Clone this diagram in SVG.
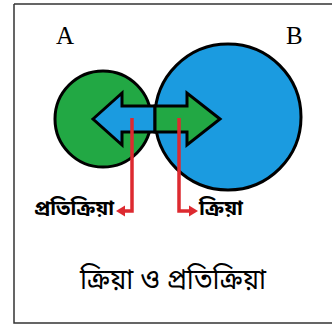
<svg xmlns="http://www.w3.org/2000/svg" width="332" height="324" viewBox="0 0 332 324">
<style>
.lbl{font-family:"Liberation Serif","Times New Roman",serif;font-size:25px;fill:#000}
.bn{font-family:"Noto Sans Bengali","Noto Serif Bengali","Lohit Bengali","Noto Sans",sans-serif;fill:#000}
.circ{stroke:#000;stroke-width:3}
.arr{stroke:#000;stroke-width:3;stroke-linejoin:miter}
.red{fill:none;stroke:#dd2a30;stroke-width:3.5}
.rhead{fill:#dd2a30}
</style>
<path d="M14,4 H332 M14,4 V323 H332" fill="none" stroke="#333" stroke-width="1.5"/>
<text class="lbl" x="56" y="44">A</text>
<text class="lbl" x="286" y="44">B</text>
<g id="nodeA"><circle class="circ" cx="103" cy="119" r="48" fill="#22a844"/></g>
<g id="nodeB"><circle class="circ" cx="228" cy="117" r="73" fill="#1b9be0"/></g>
<g id="doubleArrow">
<path d="M93,119 L122,93 L122,106 L155,106 L155,132 L122,132 L122,145 Z" fill="#1b9be0" class="arr"/>
<path d="M220,119 L187,93 L187,106 L155,106 L155,132 L187,132 L187,145 Z" fill="#22a844" class="arr"/>
</g>
<g id="connectors">
<path class="red" d="M132,118 L132,211 L124,211"/>
<polygon class="rhead" points="116,211 125,205.5 125,216.5"/>
<path class="red" d="M179,118 L179,211 L189,211"/>
<polygon class="rhead" points="198,211 189,205.5 189,216.5"/>
</g>
<text class="bn" x="34" y="215" font-size="20" font-weight="bold" textLength="80" lengthAdjust="spacingAndGlyphs">প্রতিক্রিয়া</text>
<text class="bn" x="199" y="215" font-size="20" font-weight="bold" textLength="44" lengthAdjust="spacingAndGlyphs">ক্রিয়া</text>
<text class="bn" x="80" y="289" font-size="29" textLength="186" lengthAdjust="spacingAndGlyphs">ক্রিয়া ও প্রতিক্রিয়া</text>
</svg>
